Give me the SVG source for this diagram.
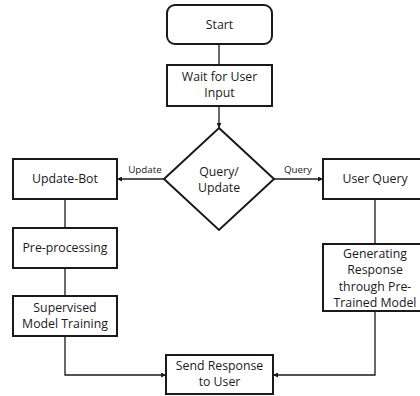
<svg xmlns="http://www.w3.org/2000/svg" width="420" height="396" viewBox="0 0 420 396">
  <style>
    .box { fill: #ffffff; stroke: #1a1a1a; stroke-width: 2; }
    .lbl { font-family: "Open Sans", "Liberation Sans", Arial, sans-serif; font-size: 12.3px; fill: #1a1a1a; text-anchor: middle; }
    .small { font-family: "Open Sans", "Liberation Sans", Arial, sans-serif; font-size: 9.8px; fill: #1a1a1a; text-anchor: middle; }
    .wire { fill: none; stroke: #1a1a1a; stroke-width: 1.3; }
  </style>
  <defs>
    <marker id="arrow" viewBox="0 0 6 6" refX="6" refY="3" markerWidth="5" markerHeight="5" orient="auto" markerUnits="userSpaceOnUse">
      <path d="M0,0 L6,3 L0,6 Z" fill="#1a1a1a"/>
    </marker>
  </defs>
  <rect width="420" height="396" fill="#ffffff"/>

  <!-- connectors -->
  <g id="connectors">
    <line class="wire" x1="219" y1="44" x2="219" y2="65"/>
    <line class="wire" x1="219" y1="106" x2="219" y2="128" marker-end="url(#arrow)"/>
    <line class="wire" x1="164" y1="179" x2="117" y2="179" marker-end="url(#arrow)"/>
    <text class="small" x="145" y="173">Update</text>
    <line class="wire" x1="274" y1="179" x2="323" y2="179" marker-end="url(#arrow)"/>
    <text class="small" x="298" y="173">Query</text>
    <line class="wire" x1="65" y1="199" x2="65" y2="228"/>
    <line class="wire" x1="65" y1="268" x2="65" y2="296"/>
    <polyline class="wire" points="65,336 65,375 166,375" marker-end="url(#arrow)"/>
    <line class="wire" x1="375" y1="199" x2="375" y2="244"/>
    <polyline class="wire" points="375,311 375,375 273,375" marker-end="url(#arrow)"/>
  </g>

  <g id="start">
    <rect class="box" x="167" y="5" width="105" height="39" rx="8"/>
    <text class="lbl" x="219.5" y="29">Start</text>
  </g>

  <g id="wait-input">
    <rect class="box" x="167" y="65" width="105" height="41"/>
    <text class="lbl" x="219.5" y="81">Wait for User</text>
    <text class="lbl" x="219.5" y="97">Input</text>
  </g>

  <g id="decision">
    <polygon class="box" points="219,128 274,179 219,230 164,179"/>
    <text class="lbl" x="219" y="176">Query/</text>
    <text class="lbl" x="219" y="192">Update</text>
  </g>

  <g id="update-bot">
    <rect class="box" x="13" y="159" width="104" height="40"/>
    <text class="lbl" x="65" y="183">Update-Bot</text>
  </g>

  <g id="pre-processing">
    <rect class="box" x="13" y="228" width="104" height="40"/>
    <text class="lbl" x="65" y="252">Pre-processing</text>
  </g>

  <g id="training">
    <rect class="box" x="13" y="296" width="104" height="40"/>
    <text class="lbl" x="65" y="312">Supervised</text>
    <text class="lbl" x="65" y="328">Model Training</text>
  </g>

  <g id="user-query">
    <rect class="box" x="323" y="159" width="104" height="40"/>
    <text class="lbl" x="375" y="183">User Query</text>
  </g>

  <g id="generating">
    <rect class="box" x="323" y="244" width="104" height="67"/>
    <text class="lbl" x="375" y="258">Generating</text>
    <text class="lbl" x="375" y="274">Response</text>
    <text class="lbl" x="375" y="291">through Pre-</text>
    <text class="lbl" x="375" y="307">Trained Model</text>
  </g>

  <g id="send-response">
    <rect class="box" x="166" y="355" width="107" height="39"/>
    <text class="lbl" x="219.5" y="370">Send Response</text>
    <text class="lbl" x="219.5" y="386">to User</text>
  </g>
</svg>
